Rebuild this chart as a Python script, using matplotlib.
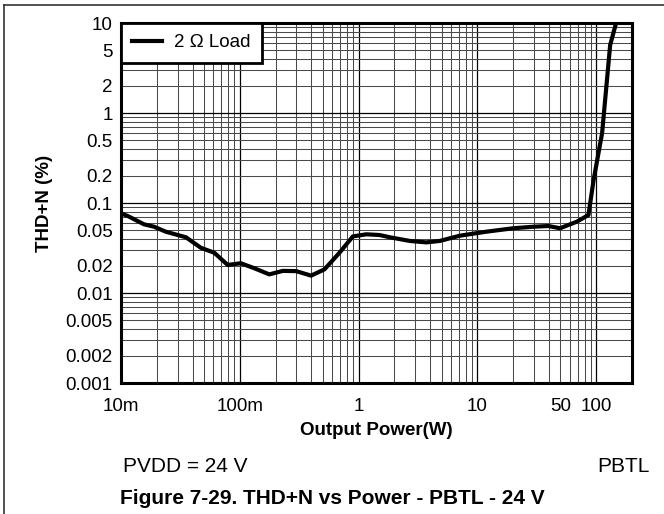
import matplotlib
matplotlib.use("Agg")
import matplotlib.pyplot as plt
from matplotlib.lines import Line2D
import numpy as np

plt.rcParams['font.family'] = ['Liberation Sans', 'DejaVu Sans']

# Data
power_w = [0.01, 0.0117, 0.0156, 0.019, 0.0238, 0.0352, 0.047, 0.061, 0.079, 0.102,
           0.133, 0.177, 0.23, 0.298, 0.398, 0.516, 0.69, 0.894, 1.16, 1.5, 1.83,
           2.69, 3.72, 4.83, 7.1, 11.9, 20.0, 29.6, 39.6, 49.6, 68.7, 86, 95, 112,
           131, 147]
thd_pct = [0.077, 0.0705, 0.058, 0.0545, 0.048, 0.0416, 0.0318, 0.028, 0.0205, 0.0214,
           0.0188, 0.0161, 0.0176, 0.0175, 0.0156, 0.0183, 0.028, 0.0425, 0.0449, 0.0441, 0.0416,
           0.0379, 0.0365, 0.0379, 0.0433, 0.048, 0.0524, 0.0545, 0.0555, 0.0524, 0.062, 0.0736, 0.18, 0.595,
           5.7, 10.0]
series_label = "2 \u03a9 Load"

x_ticks = [0.01, 0.1, 1, 10, 50, 100]
x_ticklabels = ["10m", "100m", "1", "10", "50", "100"]
y_ticks = [10, 5, 2, 1, 0.5, 0.2, 0.1, 0.05, 0.02, 0.01, 0.005, 0.002, 0.001]
y_ticklabels = ["10", "5", "2", "1", "0.5", "0.2", "0.1", "0.05", "0.02", "0.01", "0.005", "0.002", "0.001"]

fig = plt.figure(figsize=(6.64, 5.14), dpi=100)
W, H = 664, 514
ax_l, ax_r, ax_t, ax_b = 121, 632, 23, 383
ax = fig.add_axes([ax_l / W, 1 - ax_b / H, (ax_r - ax_l) / W, (ax_b - ax_t) / H])

ax.set_xscale('log')
ax.set_yscale('log')
ax.set_xlim(0.01, 200)
ax.set_ylim(0.001, 10)

# Grid lines
x_minor = [m * 10.0 ** d for d in range(-2, 2) for m in range(2, 10)]
y_minor = [m * 10.0 ** d for d in range(-3, 1) for m in range(2, 10)]
for xv in x_minor + [0.1, 1, 10, 100]:
    dec = abs(np.log10(xv) - round(np.log10(xv))) < 1e-9
    ax.axvline(xv, color='black' if dec else '#4a4a4a', lw=0.9 if dec else 0.75, zorder=1)
for yv in y_minor + [0.01, 0.1, 1]:
    dec = abs(np.log10(yv) - round(np.log10(yv))) < 1e-9
    ax.axhline(yv, color='black' if dec else '#4a4a4a', lw=0.9 if dec else 0.75, zorder=1)

ax.plot(power_w, thd_pct, color='black', lw=3.0, label=series_label, zorder=3,
        solid_joinstyle='round')

ax.set_xticks(x_ticks)
ax.set_xticklabels(x_ticklabels)
ax.set_xticks([], minor=True)
ax.set_yticks(y_ticks)
ax.set_yticklabels(y_ticklabels)
ax.set_yticks([], minor=True)
ax.tick_params(axis='both', which='both', length=0, labelsize=13.5, colors='black')
ax.tick_params(axis='x', pad=10.5)
ax.tick_params(axis='y', pad=6)

for s in ax.spines.values():
    s.set_linewidth(2.2)
    s.set_color('black')
    s.set_zorder(5)

ax.set_xlabel("Output Power(W)", fontsize=13.5, fontweight='bold', labelpad=5)
ax.set_ylabel("THD+N (%)", fontsize=13.5, fontweight='bold', labelpad=9)

leg = ax.legend(loc='upper left', borderaxespad=0, fancybox=False, fontsize=13.5,
                handlelength=1.6, handletextpad=0.65, borderpad=0.6, framealpha=1)
leg.get_frame().set_edgecolor('black')
leg.get_frame().set_linewidth(2.0)
leg.set_zorder(6)

fig.text(123 / W, 1 - 466 / H, "PVDD = 24 V", fontsize=15, ha='left', va='center')
fig.text(650 / W, 1 - 466 / H, "PBTL", fontsize=15, ha='right', va='center')
fig.text(332 / W, 1 - 499 / H, "Figure 7-29. THD+N vs Power - PBTL - 24 V",
         fontsize=15, fontweight='bold', ha='center', va='center')

# Page frame lines (left and top)
fig.add_artist(Line2D([4 / W, 4 / W], [0, 1 - 5 / H], color='#333333', lw=1.2,
                      transform=fig.transFigure))
fig.add_artist(Line2D([4 / W, 1], [1 - 5 / H, 1 - 5 / H], color='#333333', lw=1.2,
                      transform=fig.transFigure))

fig.savefig("out.png", dpi=100)
